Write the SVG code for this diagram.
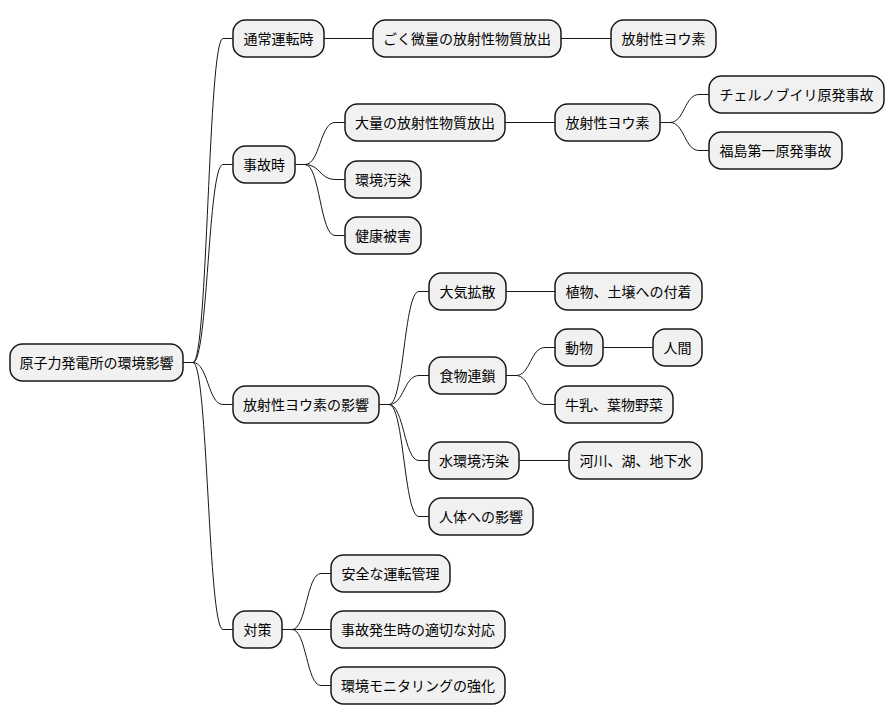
<svg xmlns="http://www.w3.org/2000/svg" width="894" height="724" viewBox="0 0 894 724">
<style>
.n rect{fill:#F1F1F1;stroke:#181818;stroke-width:1.5}
.n text{font-family:"Noto Sans CJK JP","Noto Sans CJK SC",sans-serif;font-size:14px;fill:#000;text-anchor:middle}
.c path{fill:none;stroke:#181818;stroke-width:1}
</style>
<rect width="894" height="724" fill="#FFFFFF"/>
<g class="c" id="connectors">
<path d="M183,362.5 L193,362.5 C208,362.5 208,38.5 223,38.5 L233,38.5"/>
<path d="M183,362.5 L193,362.5 C208,362.5 208,164.5 223,164.5 L233,164.5"/>
<path d="M183,362.5 L193,362.5 C208,362.5 208,404.5 223,404.5 L233,404.5"/>
<path d="M183,362.5 L193,362.5 C208,362.5 208,629.5 223,629.5 L233,629.5"/>
<path d="M324,38.5 L373,38.5"/>
<path d="M561,38.5 L611,38.5"/>
<path d="M295,164.5 L305,164.5 C320,164.5 320,122.5 335,122.5 L345,122.5"/>
<path d="M295,164.5 L305,164.5 C320,164.5 320,179.5 335,179.5 L345,179.5"/>
<path d="M295,164.5 L305,164.5 C320,164.5 320,235.5 335,235.5 L345,235.5"/>
<path d="M505,122.5 L555,122.5"/>
<path d="M660,122.5 L670,122.5 C684.5,122.5 684.5,94.5 699,94.5 L709,94.5"/>
<path d="M660,122.5 L670,122.5 C684.5,122.5 684.5,150.5 699,150.5 L709,150.5"/>
<path d="M379,404.5 L389,404.5 C404,404.5 404,291.5 419,291.5 L429,291.5"/>
<path d="M379,404.5 L389,404.5 C404,404.5 404,375.5 419,375.5 L429,375.5"/>
<path d="M379,404.5 L389,404.5 C404,404.5 404,460.5 419,460.5 L429,460.5"/>
<path d="M379,404.5 L389,404.5 C404,404.5 404,516.5 419,516.5 L429,516.5"/>
<path d="M506,291.5 L555,291.5"/>
<path d="M506,375.5 L516,375.5 C530.5,375.5 530.5,347.5 545,347.5 L555,347.5"/>
<path d="M506,375.5 L516,375.5 C530.5,375.5 530.5,404.5 545,404.5 L555,404.5"/>
<path d="M603,347.5 L653,347.5"/>
<path d="M519,460.5 L569,460.5"/>
<path d="M282,629.5 L292,629.5 C306.5,629.5 306.5,573.5 321,573.5 L331,573.5"/>
<path d="M282,629.5 L331,629.5"/>
<path d="M282,629.5 L292,629.5 C306.5,629.5 306.5,685.5 321,685.5 L331,685.5"/>
</g>
<g class="n" id="root"><rect x="10" y="344" width="173" height="37" rx="12.5"/><text x="96.5" y="367.5">原子力発電所の環境影響</text></g>
<g class="n" id="normal"><rect x="233" y="20" width="91" height="37" rx="12.5"/><text x="278.5" y="43.5">通常運転時</text></g>
<g class="n" id="trace"><rect x="373" y="20" width="188" height="37" rx="12.5"/><text x="467" y="43.5">ごく微量の放射性物質放出</text></g>
<g class="n" id="iodine1"><rect x="611" y="20" width="105" height="37" rx="12.5"/><text x="663.5" y="43.5">放射性ヨウ素</text></g>
<g class="n" id="accident"><rect x="233" y="146" width="62" height="37" rx="12.5"/><text x="264" y="169.5">事故時</text></g>
<g class="n" id="massive"><rect x="345" y="104" width="160" height="37" rx="12.5"/><text x="425" y="127.5">大量の放射性物質放出</text></g>
<g class="n" id="iodine2"><rect x="555" y="104" width="105" height="37" rx="12.5"/><text x="607.5" y="127.5">放射性ヨウ素</text></g>
<g class="n" id="chernobyl"><rect x="709" y="76" width="175" height="37" rx="12.5"/><text x="796.5" y="99.5">チェルノブイリ原発事故</text></g>
<g class="n" id="fukushima"><rect x="709" y="132" width="133" height="37" rx="12.5"/><text x="775.5" y="155.5">福島第一原発事故</text></g>
<g class="n" id="envpol"><rect x="345" y="161" width="76" height="37" rx="12.5"/><text x="383" y="184.5">環境汚染</text></g>
<g class="n" id="health"><rect x="345" y="217" width="76" height="37" rx="12.5"/><text x="383" y="240.5">健康被害</text></g>
<g class="n" id="effects"><rect x="233" y="386" width="146" height="37" rx="12.5"/><text x="306" y="409.5">放射性ヨウ素の影響</text></g>
<g class="n" id="atmos"><rect x="429" y="273" width="77" height="37" rx="12.5"/><text x="467.5" y="296.5">大気拡散</text></g>
<g class="n" id="deposit"><rect x="555" y="273" width="147" height="37" rx="12.5"/><text x="628.5" y="296.5">植物、土壌への付着</text></g>
<g class="n" id="food"><rect x="429" y="357" width="77" height="37" rx="12.5"/><text x="467.5" y="380.5">食物連鎖</text></g>
<g class="n" id="animal"><rect x="555" y="329" width="48" height="37" rx="12.5"/><text x="579" y="352.5">動物</text></g>
<g class="n" id="human"><rect x="653" y="329" width="49" height="37" rx="12.5"/><text x="677.5" y="352.5">人間</text></g>
<g class="n" id="milk"><rect x="555" y="386" width="118" height="37" rx="12.5"/><text x="614" y="409.5">牛乳、葉物野菜</text></g>
<g class="n" id="water"><rect x="429" y="442" width="90" height="37" rx="12.5"/><text x="474" y="465.5">水環境汚染</text></g>
<g class="n" id="rivers"><rect x="569" y="442" width="133" height="37" rx="12.5"/><text x="635.5" y="465.5">河川、湖、地下水</text></g>
<g class="n" id="body"><rect x="429" y="498" width="104" height="37" rx="12.5"/><text x="481" y="521.5">人体への影響</text></g>
<g class="n" id="measures"><rect x="233" y="611" width="49" height="37" rx="12.5"/><text x="257.5" y="634.5">対策</text></g>
<g class="n" id="safeop"><rect x="331" y="555" width="119" height="37" rx="12.5"/><text x="390.5" y="578.5">安全な運転管理</text></g>
<g class="n" id="response"><rect x="331" y="611" width="174" height="37" rx="12.5"/><text x="418" y="634.5">事故発生時の適切な対応</text></g>
<g class="n" id="monitor"><rect x="331" y="667" width="174" height="37" rx="12.5"/><text x="418" y="690.5">環境モニタリングの強化</text></g>
</svg>
